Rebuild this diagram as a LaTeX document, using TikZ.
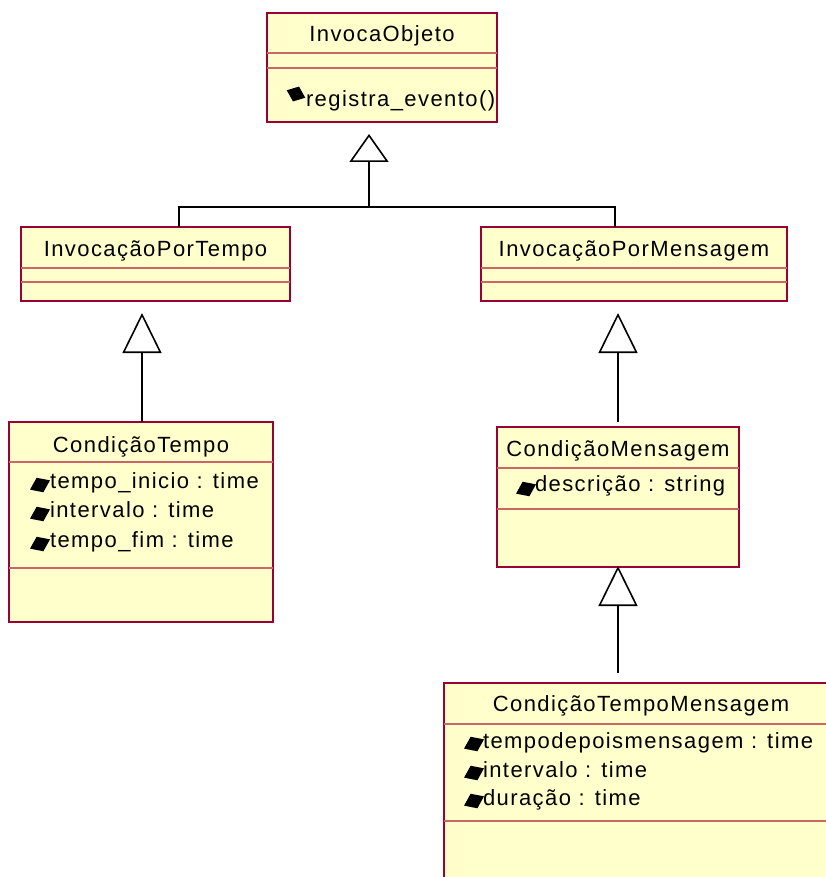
\documentclass[tikz,border=0pt]{standalone}
\usepackage{fontspec}
\setmainfont{Liberation Sans}[LetterSpace=6.5]
\usetikzlibrary{arrows.meta}
\definecolor{boxfill}{RGB}{255,255,204}
\definecolor{boxline}{RGB}{153,0,51}
\definecolor{divline}{RGB}{204,102,102}
\tikzset{
  cls/.style={draw=boxline, fill=boxfill, line width=1.5pt, inner sep=0pt, outer sep=0pt, anchor=north west},
  divl/.style={draw=divline, line width=1.4pt},
  txt/.style={inner sep=0pt, outer sep=0pt, font=\fontsize{22}{26}\selectfont},
  conn/.style={draw=black, line width=2pt},
  gentall/.style={-{Triangle[open, width=39pt, length=40pt, line width=1.6pt]}},
  genshort/.style={-{Triangle[open, width=39pt, length=28pt, line width=1.6pt]}},
  diamond fill/.style={fill=black}
}
\newcommand\attrmark[2]{\fill[diamond fill, shift={(#1,#2)}, rotate=25] (-11,0) -- (0,8) -- (11,0) -- (0,-8) -- cycle;}
\begin{document}
\begin{tikzpicture}[x=1pt,y=1pt]
\useasboundingbox (0,0) rectangle (826,-877);
\fill[white] (0,0) rectangle (826,-877);
\clip (0,0) rectangle (826,-877);

% ---------- classes ----------
% InvocaObjeto
\node[cls, minimum width=230, minimum height=109] (A) at (267,-13) {};
\draw[divl] ([yshift=-40]A.north west) -- ([yshift=-40]A.north east);
\draw[divl] ([yshift=-55]A.north west) -- ([yshift=-55]A.north east);
\node[txt, anchor=base] (At) at (382,-42) {InvocaObjeto};
\fill[diamond fill, shift={(296,-94)}, rotate=-22] (-10,0) -- (0,8) -- (10,0) -- (0,-8) -- cycle;
\node[txt, anchor=base west] (Am) at (306,-107) {registra\_evento()};

% InvocacaoPorTempo
\node[cls, minimum width=269, minimum height=74] (B) at (21,-227) {};
\draw[divl] ([yshift=-41]B.north west) -- ([yshift=-41]B.north east);
\draw[divl] ([yshift=-55]B.north west) -- ([yshift=-55]B.north east);
\node[txt, anchor=base] (Bt) at (155.5,-256) {InvocaçãoPorTempo};

% InvocacaoPorMensagem
\node[cls, minimum width=306, minimum height=74] (C) at (481,-227) {};
\draw[divl] ([yshift=-41]C.north west) -- ([yshift=-41]C.north east);
\draw[divl] ([yshift=-55]C.north west) -- ([yshift=-55]C.north east);
\node[txt, anchor=base] (Ct) at (634,-256) {InvocaçãoPorMensagem};

% CondicaoTempo
\node[cls, minimum width=264, minimum height=200] (D) at (9,-422) {};
\draw[divl] ([yshift=-40]D.north west) -- ([yshift=-40]D.north east);
\draw[divl] ([yshift=-146]D.north west) -- ([yshift=-146]D.north east);
\node[txt, anchor=base] (Dt) at (141,-452) {CondiçãoTempo};
\attrmark{40}{-485}
\node[txt, anchor=base west] (Da1) at (50,-488) {tempo\_inicio : time};
\attrmark{40}{-514}
\node[txt, anchor=base west] (Da2) at (50,-517) {intervalo : time};
\attrmark{40}{-544}
\node[txt, anchor=base west] (Da3) at (50,-547) {tempo\_fim : time};

% CondicaoMensagem
\node[cls, minimum width=242, minimum height=140] (E) at (497,-427) {};
\draw[divl] ([yshift=-41]E.north west) -- ([yshift=-41]E.north east);
\draw[divl] ([yshift=-82]E.north west) -- ([yshift=-82]E.north east);
\node[txt, anchor=base] (Et) at (618,-456) {CondiçãoMensagem};
\attrmark{526}{-489}
\node[txt, anchor=base west] (Ea1) at (535,-491) {descrição : string};

% CondicaoTempoMensagem
\node[cls, minimum width=394, minimum height=230] (F) at (444,-683) {};
\draw[divl] ([yshift=-41]F.north west) -- ([yshift=-41]F.north east);
\draw[divl] ([yshift=-138]F.north west) -- ([yshift=-138]F.north east);
\node[txt, anchor=base] (Ft) at (641,-711) {CondiçãoTempoMensagem};
\attrmark{474}{-744}
\node[txt, anchor=base west] (Fa1) at (483,-748) {tempodepoismensagem : time};
\attrmark{474}{-773}
\node[txt, anchor=base west] (Fa2) at (483,-777) {intervalo : time};
\attrmark{474}{-801}
\node[txt, anchor=base west] (Fa3) at (483,-805) {duração : time};

% ---------- generalizations ----------
\coordinate (busL) at (179,-207);
\coordinate (busR) at (615,-207);
\coordinate (busM) at (369,-207);
\coordinate (tipA) at (369,-134);
\draw[conn] (busL |- B.north) -- (busL) -- (busR) -- (busR |- C.north);
\draw[conn, genshort] (busM) -- (tipA);

\coordinate (tipB) at (142,-313);
\draw[conn, gentall] (tipB |- D.north) -- (tipB);

\coordinate (tipC) at (618,-313);
\coordinate (endE) at (618,-422);
\draw[conn, gentall] (endE) -- (tipC);

\coordinate (tipE) at (618,-566);
\coordinate (endF) at (618,-673);
\draw[conn, gentall] (endF) -- (tipE);
\end{tikzpicture}
\end{document}
